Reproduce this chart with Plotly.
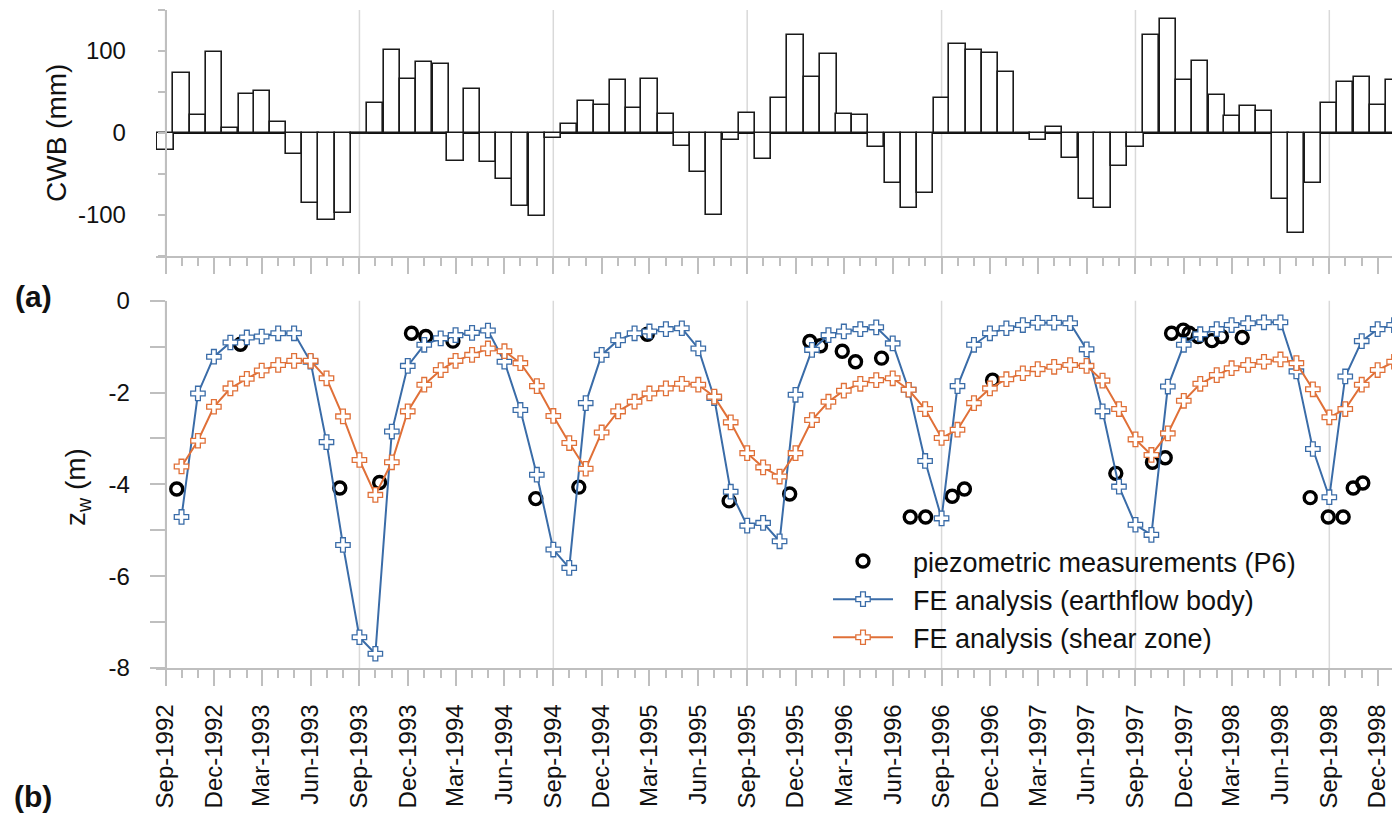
import pandas as pd
import plotly.graph_objects as go

W, H = 1392, 814
FONT = "Liberation Sans, Arial, sans-serif"

# ---------------- data ----------------
# monthly climatic water balance (mm), Sep-1992 ... Jan-1999
cwb_months = pd.date_range("1992-09-01", "1999-01-01", freq="MS")
cwb_values = [
    -21, 73, 22, 99, 6, 47, 51, 14, -25, -85, -106, -97,
    -1.5, 37, 101, 66, 86, 84, -34, 54, -35, -56, -89, -101,
    -6, 11, 39, 34, 65, 30, 66, 23, -16, -48, -100, -9,
    24, -32, 43, 119, 68, 96, 23, 22, -17, -61, -92, -73,
    43, 108, 101, 97, 74, 0, -9, 7, -31, -80, -92, -40,
    -17, 119, 139, 65, 88, 46, 21, 33, 27, -81, -122, -61,
    37, 62, 68, 34, 65,
]
cwb_tickvals = [-100, 0, 100]
cwb_ticktext = ["-100", "0", "100"]

# FE results, monthly, Oct-1992 ... Jan-1999
fe_months = pd.date_range("1992-10-01", "1999-01-01", freq="MS")
fe_body = [
    -4.71, -2.02, -1.22, -0.91, -0.80, -0.78, -0.71, -0.71, -1.33, -3.08, -5.32, -7.33,
    -7.69, -2.85, -1.42, -0.96, -0.82, -0.75, -0.70, -0.65, -1.33, -2.38, -3.79, -5.42,
    -5.82, -2.23, -1.18, -0.86, -0.71, -0.67, -0.62, -0.60, -1.04, -2.12, -4.16, -4.90,
    -4.84, -5.24, -2.05, -1.07, -0.75, -0.67, -0.62, -0.58, -0.93, -1.94, -3.49, -4.74,
    -1.86, -0.96, -0.71, -0.60, -0.53, -0.48, -0.48, -0.49, -1.06, -2.41, -4.05, -4.88,
    -5.10, -1.87, -0.96, -0.73, -0.62, -0.53, -0.49, -0.47, -0.47, -1.54, -3.23, -4.28,
    -1.65, -0.88, -0.62, -0.53,
]
fe_shear = [
    -3.61, -3.05, -2.31, -1.91, -1.70, -1.52, -1.40, -1.31, -1.31, -1.69, -2.52, -3.47,
    -4.23, -3.52, -2.41, -1.83, -1.51, -1.31, -1.18, -1.04, -1.10, -1.36, -1.86, -2.51,
    -3.10, -3.66, -2.87, -2.41, -2.20, -2.02, -1.91, -1.81, -1.83, -2.09, -2.65, -3.32,
    -3.63, -3.83, -3.32, -2.60, -2.20, -1.96, -1.81, -1.73, -1.69, -1.94, -2.36, -2.99,
    -2.81, -2.23, -1.91, -1.71, -1.58, -1.49, -1.44, -1.40, -1.42, -1.74, -2.36, -3.02,
    -3.36, -2.89, -2.18, -1.81, -1.62, -1.47, -1.40, -1.33, -1.28, -1.36, -1.93, -2.54,
    -2.36, -1.83, -1.51, -1.33,
]
zw_tickvals = [-8, -6, -4, -2, 0]
zw_ticktext = ["-8", "-6", "-4", "-2", "0"]

# piezometric measurements (P6)
p6_dates = [
    "1992-09-22", "1993-01-20", "1993-07-26", "1993-10-09", "1993-12-08", "1994-01-04",
    "1994-02-24", "1994-07-30", "1994-10-19", "1995-02-25", "1995-07-29", "1995-11-20",
    "1995-12-28", "1996-01-17", "1996-02-27", "1996-03-23", "1996-05-11", "1996-07-04",
    "1996-08-02", "1996-09-21", "1996-10-14", "1996-12-06", "1997-07-26", "1997-10-03",
    "1997-10-27", "1997-11-08", "1997-11-30", "1997-12-11", "1997-12-28", "1998-01-23",
    "1998-02-10", "1998-03-21", "1998-07-27", "1998-08-30", "1998-09-27", "1998-10-16",
    "1998-11-03",
]
p6_values = [
    -4.10, -0.95, -4.08, -3.96, -0.71, -0.78,
    -0.88, -4.31, -4.06, -0.73, -4.36, -4.21,
    -0.89, -0.98, -1.10, -1.33, -1.25, -4.71,
    -4.71, -4.26, -4.10, -1.73, -3.76, -3.52,
    -3.42, -0.71, -0.64, -0.71, -0.78, -0.87,
    -0.78, -0.80, -4.29, -4.71, -4.71, -4.08,
    -3.97,
]

grid_dates = ["1992-09-01", "1993-09-01", "1994-09-01", "1995-09-01",
              "1996-09-01", "1997-09-01", "1998-09-01"]

# ---------------- styling ----------------
BLUE = "#3A6CA8"
ORANGE = "#E07038"
AXIS = "#BFBFBF"
GRID = "#D9D9D9"
NB = "\u00a0\u00a0"

x_range = ["1992-08-14", "1998-12-28"]
x_dom = [156 / W, 1.0]
y_axis_pos = 165.5 / W
top_dom = [1 - 256 / H, 1 - 10 / H]
bot_dom = [1 - 668 / H, 1 - 300.7 / H]

fig = go.Figure()

fig.add_trace(go.Bar(
    x=cwb_months, y=cwb_values, width=30.44 * 86400000,
    marker=dict(color="white", line=dict(color="#1A1A1A", width=1.6)),
    xaxis="x", yaxis="y", showlegend=False,
))

fig.add_trace(go.Scatter(
    x=p6_dates, y=p6_values, mode="markers", name=NB + "piezometric measurements (P6)",
    marker=dict(symbol="circle-open", size=12, color="black", line=dict(color="black", width=3.4)),
    xaxis="x2", yaxis="y2",
))
fig.add_trace(go.Scatter(
    x=fe_months, y=fe_body, mode="lines+markers", name=NB + "FE analysis (earthflow body)",
    line=dict(color=BLUE, width=2),
    marker=dict(symbol="cross", size=12, color="white", line=dict(color=BLUE, width=1.3)),
    xaxis="x2", yaxis="y2",
))
fig.add_trace(go.Scatter(
    x=fe_months, y=fe_shear, mode="lines+markers", name=NB + "FE analysis (shear zone)",
    line=dict(color=ORANGE, width=2),
    marker=dict(symbol="cross", size=12, color="white", line=dict(color=ORANGE, width=1.3)),
    xaxis="x2", yaxis="y2",
))

xcommon = dict(
    type="date", range=x_range, domain=x_dom, showgrid=False, zeroline=False,
    showline=True, linecolor=AXIS, linewidth=1.5,
    ticks="outside", ticklen=16, tickwidth=1.5, tickcolor=AXIS,
    dtick="M3", tick0="1992-09-01",
    minor=dict(dtick="M1", tick0="1992-09-01", ticks="outside", ticklen=8,
               tickwidth=1.5, tickcolor=AXIS, showgrid=False),
    automargin=False,
)

fig.update_layout(
    width=W, height=H,
    margin=dict(l=0, r=0, t=0, b=0),
    paper_bgcolor="white", plot_bgcolor="white",
    font=dict(family=FONT, color="#111111", size=24),
    bargap=0,
    xaxis=dict(**xcommon, anchor="y", showticklabels=False),
    yaxis=dict(
        domain=top_dom, range=[-150, 150], anchor="free", position=y_axis_pos,
        tickmode="array", tickvals=cwb_tickvals, ticktext=cwb_ticktext,
        minor=dict(tick0=0, dtick=50, ticks="outside", ticklen=7, tickwidth=1.5,
                   tickcolor=AXIS, showgrid=False),
        ticks="outside", ticklen=7, tickwidth=1.5, tickcolor=AXIS,
        showline=True, linecolor=AXIS, linewidth=1.5,
        showgrid=False, zeroline=True, zerolinecolor="#111111", zerolinewidth=1.8,
        tickfont=dict(size=24), ticklabelstandoff=27, automargin=False,
    ),
    xaxis2=dict(**xcommon, anchor="y2", showticklabels=True, tickformat="%b-%Y",
                tickangle=-90, tickfont=dict(size=24), ticklabelstandoff=9),
    yaxis2=dict(
        domain=bot_dom, range=[-8, 0], anchor="free", position=y_axis_pos,
        tickmode="array", tickvals=zw_tickvals, ticktext=zw_ticktext,
        minor=dict(tick0=0, dtick=1, ticks="outside", ticklen=15, tickwidth=1.5,
                   tickcolor=AXIS, showgrid=False),
        ticks="outside", ticklen=15, tickwidth=1.5, tickcolor=AXIS,
        showline=True, linecolor=AXIS, linewidth=1.5,
        showgrid=False, zeroline=False,
        tickfont=dict(size=24), ticklabelstandoff=15, automargin=False,
    ),
    legend=dict(
        x=828 / W, y=1 - 537 / H, xanchor="left", yanchor="top",
        bgcolor="rgba(0,0,0,0)", font=dict(size=27, family=FONT, color="#111111"),
        itemwidth=60, tracegroupgap=0,
    ),
)

shapes = []
for d in grid_dates:
    shapes.append(dict(type="line", xref="x", yref="y domain", x0=d, x1=d, y0=0, y1=1,
                       line=dict(color=GRID, width=1.5), layer="below"))
    shapes.append(dict(type="line", xref="x2", yref="y2 domain", x0=d, x1=d, y0=0, y1=1,
                       line=dict(color=GRID, width=1.5), layer="below"))
fig.update_layout(shapes=shapes)

def ann(text, px, py, size, angle=0):
    return dict(text=text, x=px / W, y=1 - py / H, xref="paper", yref="paper",
                showarrow=False, textangle=angle, xanchor="center", yanchor="middle",
                font=dict(size=size, family=FONT, color="#111111"))

fig.update_layout(annotations=[
    ann("CWB (mm)", 56, 133, 28, -90),
    ann("z<sub>w</sub> (m)", 77, 487, 28, -90),
    ann("<b>(a)</b>", 33, 296, 30),
    ann("<b>(b)</b>", 33, 796, 30),
])

fig.write_html("out.html")
